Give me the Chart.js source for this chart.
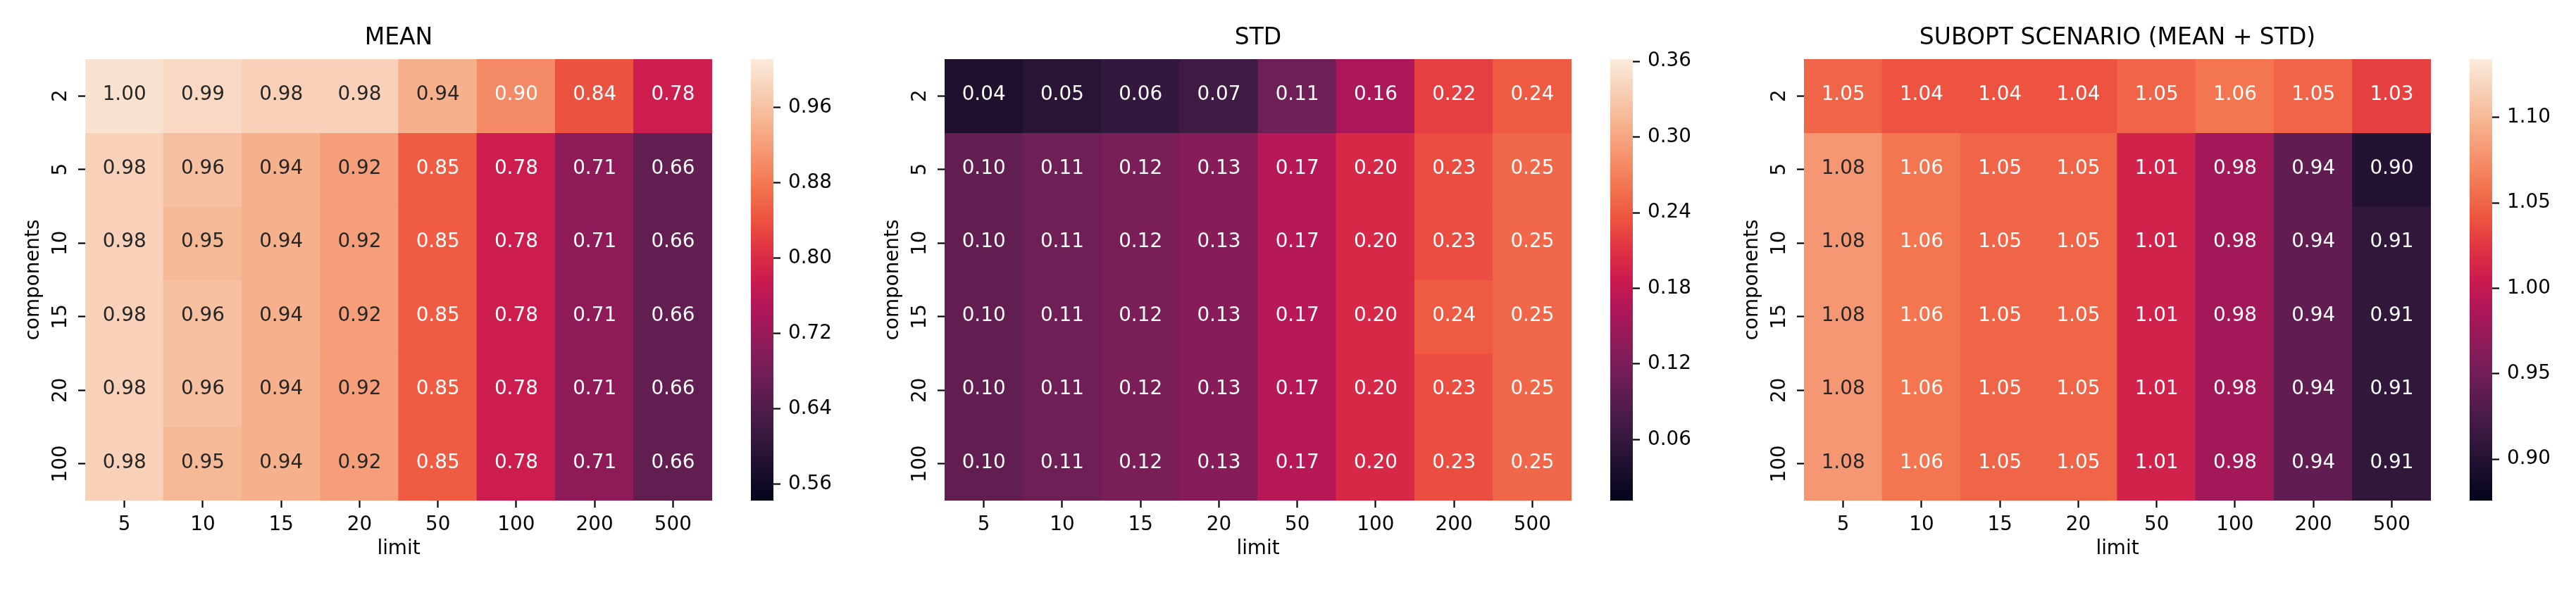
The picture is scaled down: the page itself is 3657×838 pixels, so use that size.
<!DOCTYPE html>
<html><head><meta charset="utf-8">
<script src="https://cdn.jsdelivr.net/npm/chart.js@4"></script>
<style>
html,body{margin:0;padding:0;background:#fff;}
#wrap{position:relative;width:3657px;height:838px;overflow:hidden;background:#fff;}
canvas{position:absolute;top:0;}
</style></head><body>
<div id="wrap"></div>
<script>
// ---------- data ----------
const limits = ['5', '10', '15', '20', '50', '100', '200', '500'];
const components = ['2', '5', '10', '15', '20', '100'];

const meanValues = [
  [1.00, 0.99, 0.98, 0.98, 0.94, 0.90, 0.84, 0.78],
  [0.98, 0.96, 0.94, 0.92, 0.85, 0.78, 0.71, 0.66],
  [0.98, 0.95, 0.94, 0.92, 0.85, 0.78, 0.71, 0.66],
  [0.98, 0.96, 0.94, 0.92, 0.85, 0.78, 0.71, 0.66],
  [0.98, 0.96, 0.94, 0.92, 0.85, 0.78, 0.71, 0.66],
  [0.98, 0.95, 0.94, 0.92, 0.85, 0.78, 0.71, 0.66]
];
const stdValues = [
  [0.04, 0.05, 0.06, 0.07, 0.11, 0.16, 0.22, 0.24],
  [0.10, 0.11, 0.12, 0.13, 0.17, 0.20, 0.23, 0.25],
  [0.10, 0.11, 0.12, 0.13, 0.17, 0.20, 0.23, 0.25],
  [0.10, 0.11, 0.12, 0.13, 0.17, 0.20, 0.24, 0.25],
  [0.10, 0.11, 0.12, 0.13, 0.17, 0.20, 0.23, 0.25],
  [0.10, 0.11, 0.12, 0.13, 0.17, 0.20, 0.23, 0.25]
];
const suboptValues = [
  [1.05, 1.04, 1.04, 1.04, 1.05, 1.06, 1.05, 1.03],
  [1.08, 1.06, 1.05, 1.05, 1.01, 0.98, 0.94, 0.90],
  [1.08, 1.06, 1.05, 1.05, 1.01, 0.98, 0.94, 0.91],
  [1.08, 1.06, 1.05, 1.05, 1.01, 0.98, 0.94, 0.91],
  [1.08, 1.06, 1.05, 1.05, 1.01, 0.98, 0.94, 0.91],
  [1.08, 1.06, 1.05, 1.05, 1.01, 0.98, 0.94, 0.91]
];

const panelTitles = ['MEAN', 'STD', 'SUBOPT SCENARIO (MEAN + STD)'];
const meanColorRange = [0.5423, 1.0114];
const stdColorRange = [0.0117, 0.3617];
const suboptColorRange = [0.8757, 1.1341];
const meanColorTicks = [0.56, 0.64, 0.72, 0.80, 0.88, 0.96];
const stdColorTicks = [0.06, 0.12, 0.18, 0.24, 0.30, 0.36];
const suboptColorTicks = [0.90, 0.95, 1.00, 1.05, 1.10];
const xAxisTitle = 'limit';
const yAxisTitle = 'components';

// ---------- colormap (seaborn "rocket" approximation) ----------
const ROCKET = [
  [0.000, '#03051a'], [0.143, '#35193e'], [0.286, '#701f57'], [0.429, '#ad1759'],
  [0.500, '#cb1b4f'], [0.571, '#e13342'], [0.643, '#ee5640'], [0.714, '#f37651'],
  [0.857, '#f6b48f'], [1.000, '#faebdd']
];
function hex2rgb(h) { return [parseInt(h.slice(1,3),16), parseInt(h.slice(3,5),16), parseInt(h.slice(5,7),16)]; }
function rocket(t) {
  t = Math.max(0, Math.min(1, t));
  for (let i = 1; i < ROCKET.length; i++) {
    if (t <= ROCKET[i][0]) {
      const [t0, c0] = ROCKET[i-1], [t1, c1] = ROCKET[i];
      const a = hex2rgb(c0), b = hex2rgb(c1), f = (t - t0) / (t1 - t0);
      return a.map((x, k) => Math.round(x + (b[k] - x) * f));
    }
  }
  return hex2rgb(ROCKET[ROCKET.length-1][1]);
}
function cellRGB(v, range) { return rocket((v - range[0]) / (range[1] - range[0])); }
function rgbCss(c) { return `rgb(${c[0]},${c[1]},${c[2]})`; }
function textColorFor(c) {
  const lin = c.map(x => { x /= 255; return x <= 0.03928 ? x / 12.92 : Math.pow((x + 0.055) / 1.055, 2.4); });
  const lum = 0.2126 * lin[0] + 0.7152 * lin[1] + 0.0722 * lin[2];
  return lum > 0.408 ? '#262626' : '#ffffff';
}

const FONT = 'DejaVu Sans';
const FS = 27.8;
const wrap = document.getElementById('wrap');
function mkCanvas(left, w) {
  const cv = document.createElement('canvas');
  cv.width = w; cv.height = 838;
  cv.style.left = left + 'px'; cv.style.width = w + 'px'; cv.style.height = '838px';
  wrap.appendChild(cv);
  return cv;
}

const annotPlugin = {
  id: 'annot',
  afterDatasetsDraw(chart) {
    const c = chart.ctx;
    c.save();
    c.font = `${FS}px "${FONT}"`;
    c.textAlign = 'center';
    c.textBaseline = 'middle';
    chart.data.datasets.forEach((ds, di) => {
      const meta = chart.getDatasetMeta(di);
      meta.data.forEach((el, j) => {
        const v = ds.cellValues[j];
        c.fillStyle = textColorFor(cellRGB(v, ds.cellRange));
        c.fillText(v.toFixed(2), el.x, (el.y + el.base) / 2 - 1);
      });
    });
    c.restore();
  }
};

function makeHeatmap(i, values, range, title) {
  const cv = mkCanvas(1220 * i, 1040);
  new Chart(cv, {
    type: 'bar',
    data: {
      labels: limits,
      datasets: values.map((row, r) => ({
        label: components[r],
        data: row.map(() => [r, r + 1]),
        backgroundColor: row.map(v => rgbCss(cellRGB(v, range))),
        borderWidth: 0,
        inflateAmount: 0.6,
        grouped: false,
        barPercentage: 1,
        categoryPercentage: 1,
        cellValues: row,
        cellRange: range
      }))
    },
    options: {
      responsive: false, animation: false, devicePixelRatio: 1,
      layout: { padding: { left: 0, right: 29, top: 0, bottom: 0 } },
      plugins: {
        legend: { display: false }, tooltip: { enabled: false },
        title: {
          display: true, text: title, fullSize: false, color: '#000',
          font: { family: FONT, size: 33, weight: 'normal', lineHeight: 1.2 },
          padding: { top: 35, bottom: 9.4 }
        }
      },
      scales: {
        x: {
          type: 'category', offset: true,
          grid: { offset: false, drawOnChartArea: false, drawTicks: true, tickLength: 10, tickWidth: 2.2, tickColor: '#000' },
          border: { display: false },
          ticks: { color: '#000', font: { family: FONT, size: FS }, padding: 8, maxRotation: 0, minRotation: 0, autoSkip: false },
          title: { display: true, text: xAxisTitle, color: '#000', font: { family: FONT, size: FS, lineHeight: 1.2 }, padding: { top: 0, bottom: 41.2 } },
          afterFit: s => { s.height = 127; }
        },
        y: {
          type: 'linear', reverse: true, min: 0, max: components.length,
          grid: { drawOnChartArea: false, drawTicks: true, tickLength: 10, tickWidth: 2.2, tickColor: '#000' },
          border: { display: false },
          afterBuildTicks: s => { s.ticks = components.map((c, k) => ({ value: k + 0.5 })); },
          ticks: {
            callback: v => components[Math.floor(v)],
            color: '#000', font: { family: FONT, size: FS },
            minRotation: 90, maxRotation: 90, crossAlign: 'center', padding: -2.5, autoSkip: false
          },
          title: { display: true, text: yAxisTitle, color: '#000', font: { family: FONT, size: FS, lineHeight: 1.2 }, padding: { top: 31, bottom: 0 } },
          afterFit: s => { s.width = 121; }
        }
      }
    },
    plugins: [annotPlugin]
  });
}

function makeColorbar(i, range, ticks) {
  const cv = mkCanvas(1220 * i + 1040, 180);
  new Chart(cv, {
    type: 'bar',
    data: {
      labels: [''],
      datasets: [{
        data: [[range[0], range[1]]],
        backgroundColor: (ctx) => {
          const ch = ctx.chart, area = ch.chartArea;
          if (!area) return '#888';
          const g = ch.ctx.createLinearGradient(0, area.bottom, 0, area.top);
          for (let k = 0; k <= 64; k++) g.addColorStop(k / 64, rgbCss(rocket(k / 64)));
          return g;
        },
        borderWidth: 0, inflateAmount: 0, barPercentage: 1, categoryPercentage: 1
      }]
    },
    options: {
      responsive: false, animation: false, devicePixelRatio: 1,
      layout: { padding: { left: 26, top: 84, bottom: 127, right: 0 } },
      plugins: { legend: { display: false }, tooltip: { enabled: false }, title: { display: false } },
      scales: {
        x: { display: false },
        y: {
          position: 'right', min: range[0], max: range[1],
          afterBuildTicks: s => { s.ticks = ticks.map(v => ({ value: v })); },
          ticks: { callback: v => v.toFixed(2), color: '#000', font: { family: FONT, size: FS }, padding: 11, autoSkip: false },
          grid: { drawOnChartArea: false, drawTicks: true, tickLength: 10, tickWidth: 2.2, tickColor: '#000' },
          border: { display: false },
          afterFit: s => { s.width = 122; }
        }
      }
    }
  });
}

makeHeatmap(0, meanValues, meanColorRange, panelTitles[0]);
makeColorbar(0, meanColorRange, meanColorTicks);
makeHeatmap(1, stdValues, stdColorRange, panelTitles[1]);
makeColorbar(1, stdColorRange, stdColorTicks);
makeHeatmap(2, suboptValues, suboptColorRange, panelTitles[2]);
makeColorbar(2, suboptColorRange, suboptColorTicks);
</script>
</body></html>
